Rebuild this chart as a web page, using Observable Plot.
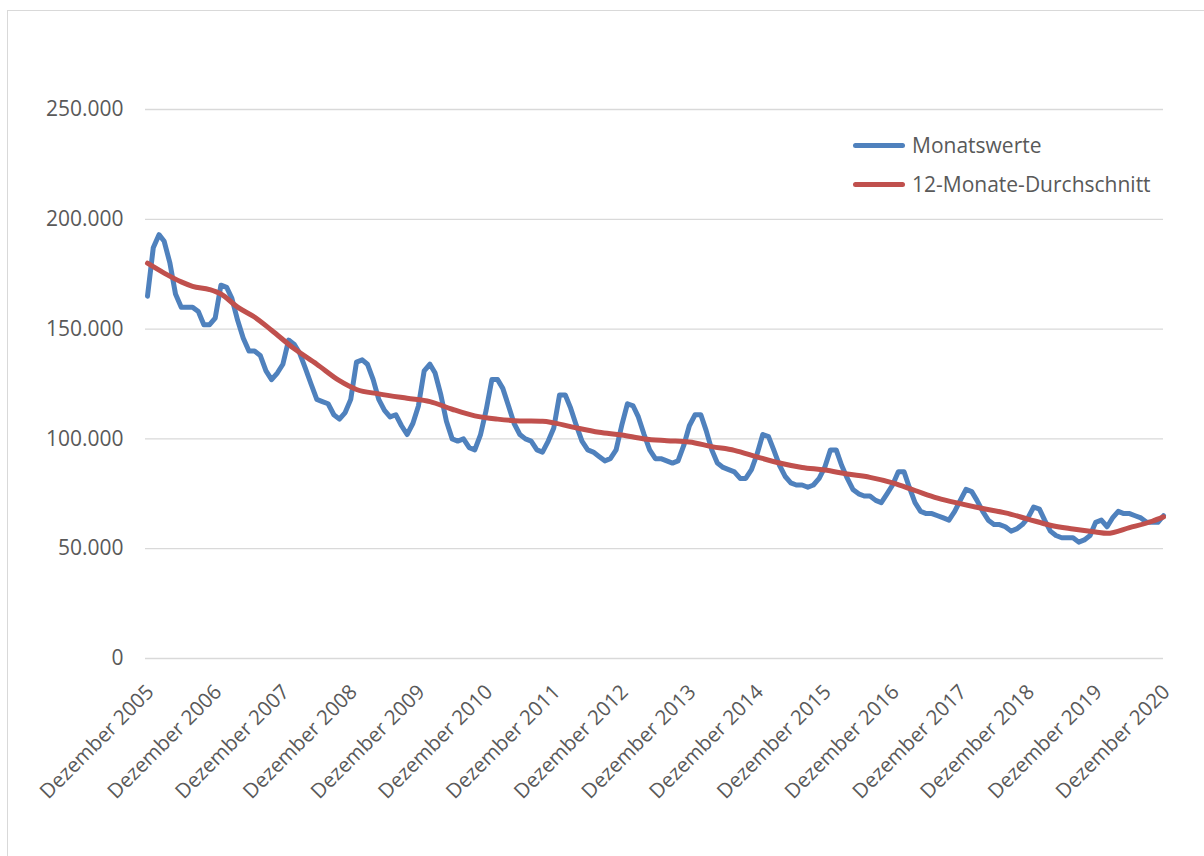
<!DOCTYPE html>
<html><head><meta charset="utf-8">
<script src="https://cdn.jsdelivr.net/npm/d3@7"></script>
<script src="https://cdn.jsdelivr.net/npm/@observablehq/plot@0.6"></script>
<style>
html,body{margin:0;padding:0;background:#fff;overflow:hidden}
#wrap{position:relative;width:1204px;height:856px;font-family:"Open Sans",sans-serif;overflow:hidden}
#frame{position:absolute;left:7px;top:10px;width:1400px;height:1200px;border:1.5px solid #d9d9d9}
#chart{position:absolute;left:0;top:0}
.leg{position:absolute;left:853px;height:30px;display:flex;align-items:center;font-size:21px;color:#595959;white-space:nowrap}
.leg .sw{display:inline-block;width:52px;height:5px;border-radius:3px;margin-right:7px}
</style></head><body>
<div id="wrap"><div id="frame"></div><div id="chart"></div><div id="legend"></div></div>
<script>
// Monthly values (thousands), Dezember 2005 .. Dezember 2020
const monatswerte = [
 165,
 187,193,190,180,166,160,160,160,158,152,152,155,
 170,169,164,154,146,140,140,138,131,127,130,134,
 145,143,139,132,125,118,117,116,111,109,112,118,
 135,136,134,127,118,113,110,111,106,102,107,115,
 131,134,130,120,108,100,99,100,96,95,102,113,
 127,127,123,115,107,102,100,99,95,94,99,105,
 120,120,114,106,99,95,94,92,90,91,95,106,
 116,115,110,102,95,91,91,90,89,90,97,106,
 111,111,104,95,89,87,86,85,82,82,86,93,
 102,101,95,88,83,80,79,79,78,79,82,87,
 95,95,88,82,77,75,74,74,72,71,75,79,
 85,85,78,71,67,66,66,65,64,63,67,72,
 77,76,72,67,63,61,61,60,58,59,61,64,
 69,68,63,58,56,55,55,55,53,54,56,62,
 63,60,64,67,66,66,65,64,62,62,62,65
];
// 12-Monate-Durchschnitt: month offset from Dez 2005, value (thousands)
const avgMonth = [0,3,6,8,11,13,16,19,22,26,30,34,37,41,46,50,54,58,62,66,70,72,76,80,84,88,92,96,100,104,108,112,116,120,124,128,132,136,140,144,148,152,156,160,164,168,170,174,178,180];
const avgValue = [180,175.5,171.5,169.5,168,166,160,155.5,149.5,141,134,126.5,122.5,120.5,118.5,117,113.5,110.5,109,108.2,108,107.3,105,103,101.8,100,99.2,98.6,96.5,94.8,91.8,89,87,85.8,84,82.5,80,76.5,73,70.5,68.3,66.3,63.5,60.7,59,57.6,57.0,59.6,62.5,64.5];
const yTicks = [0,50000,100000,150000,200000,250000];
const tickYears = [2005,2006,2007,2008,2009,2010,2011,2012,2013,2014,2015,2016,2017,2018,2019,2020];
const seriesNames = ["Monatswerte","12-Monate-Durchschnitt"];
const seriesColors = ["#4F81BD","#C0504D"];

const start = new Date(Date.UTC(2005,11,1));
const end = new Date(Date.UTC(2020,11,1));
const monthly = monatswerte.map((v,i)=>({date:d3.utcMonth.offset(start,i), value:v*1000}));
const avg = avgMonth.map((m,i)=>({date:d3.utcMonth.offset(start,m), value:avgValue[i]*1000}));
const xTicks = tickYears.map(y=>new Date(Date.UTC(y,11,1)));
const fmt = d => d3.format(",")(d).replace(/,/g,".");

const chart = Plot.plot({
  width:1204, height:856,
  marginLeft:145, marginRight:41, marginTop:109, marginBottom:198,
  style:{fontFamily:"Open Sans", fontSize:"21px", color:"#595959", background:"transparent"},
  x:{type:"utc", domain:[start,end], insetLeft:2, label:null},
  y:{domain:[0,250000], label:null},
  marks:[
    Plot.gridY(yTicks,{stroke:"#d9d9d9", strokeOpacity:1, strokeWidth:1.3}),
    Plot.axisY(yTicks,{tickSize:0, tickPadding:22, tickFormat:fmt, fontSize:21, fill:"#595959", label:null}),
    Plot.axisX(xTicks,{tickSize:0, tickRotate:-45, tickPadding:20, dx:3, dy:10, tickFormat:d=>"Dezember "+d.getUTCFullYear(), fontSize:20.5, fill:"#595959", label:null}),
    Plot.line(monthly,{x:"date", y:"value", stroke:seriesColors[0], strokeWidth:5, strokeLinejoin:"round", strokeLinecap:"round"}),
    Plot.line(avg,{x:"date", y:"value", stroke:seriesColors[1], strokeWidth:5, curve:"monotone-x", strokeLinejoin:"round", strokeLinecap:"round"})
  ]
});
document.getElementById("chart").appendChild(chart);

const legend = document.getElementById("legend");
const legTops = [130,169];
seriesNames.forEach((n,i)=>{
  const d = document.createElement("div");
  d.className="leg"; d.style.top=legTops[i]+"px";
  d.innerHTML = `<span class="sw" style="background:${seriesColors[i]}"></span><span>${n}</span>`;
  legend.appendChild(d);
});
</script>
</body></html>
